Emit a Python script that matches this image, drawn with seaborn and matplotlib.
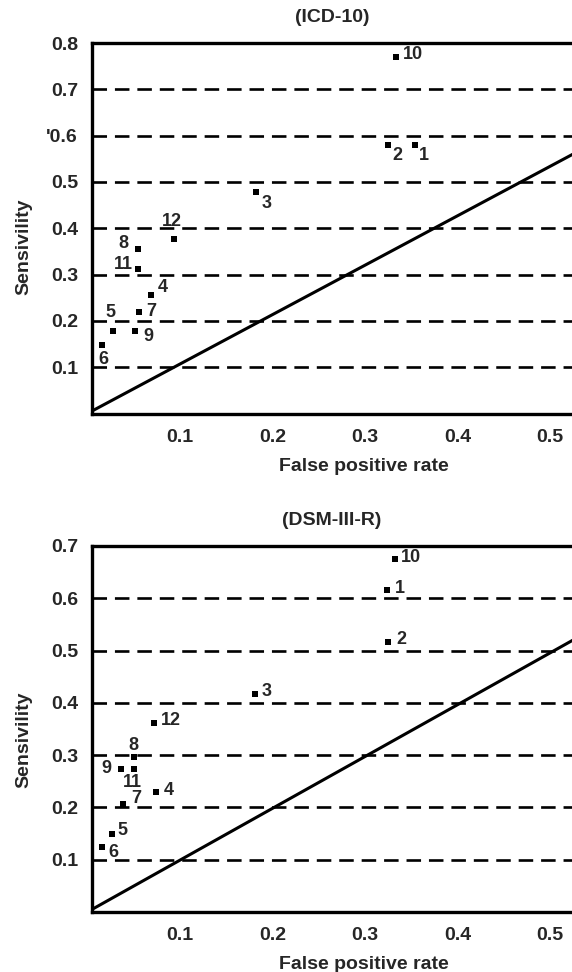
import matplotlib
matplotlib.use("Agg")
import matplotlib.pyplot as plt
import seaborn as sns
import pandas as pd

# ---- data ----
point_ids = ["1", "2", "3", "4", "5", "6", "7", "8", "9", "10", "11", "12"]

icd_fpr = [0.354, 0.325, 0.182, 0.069, 0.028, 0.016, 0.056, 0.055, 0.051, 0.334, 0.055, 0.094]
icd_sens = [0.580, 0.580, 0.479, 0.255, 0.179, 0.147, 0.219, 0.355, 0.179, 0.770, 0.312, 0.377]

dsm_fpr = [0.324, 0.325, 0.181, 0.074, 0.027, 0.016, 0.038, 0.050, 0.036, 0.333, 0.050, 0.072]
dsm_sens = [0.615, 0.517, 0.417, 0.230, 0.150, 0.124, 0.207, 0.297, 0.273, 0.676, 0.274, 0.361]

ref_x = [0.0, 0.525]
icd_ref_y = [0.0, 0.560]
dsm_ref_y = [0.0, 0.520]

x_ticks = [0.1, 0.2, 0.3, 0.4, 0.5]
x_ticklabels = ["0.1", "0.2", "0.3", "0.4", "0.5"]
icd_yticks = [0.1, 0.2, 0.3, 0.4, 0.5, 0.6, 0.7, 0.8]
icd_yticklabels = ["0.1", "0.2", "0.3", "0.4", "0.5", "'0.6", "0.7", "0.8"]
dsm_yticks = [0.1, 0.2, 0.3, 0.4, 0.5, 0.6, 0.7]
dsm_yticklabels = ["0.1", "0.2", "0.3", "0.4", "0.5", "0.6", "0.7"]
grid_levels_icd = [0.1, 0.2, 0.3, 0.4, 0.5, 0.6, 0.7]
grid_levels_dsm = [0.1, 0.2, 0.3, 0.4, 0.5, 0.6]

# label offsets (pixels) – styling only
icd_offsets = {"1": (9, -11), "2": (9, -11), "3": (11, -12), "4": (12, 8),
               "5": (-3, 18), "6": (1, -14), "7": (12, 1), "8": (-15, 6),
               "9": (14, -6), "10": (17, 2), "11": (-15, 5), "12": (-2, 17)}
dsm_offsets = {"1": (13, 2), "2": (13, 2), "3": (12, 2), "4": (13, 1),
               "5": (10, 3), "6": (11, -5), "7": (14, 5), "8": (0, 11),
               "9": (-14, 1), "10": (16, 1), "11": (-1, -14), "12": (17, 3)}

sns.set_style("ticks")
plt.rcParams["font.family"] = ["Liberation Sans", "DejaVu Sans"]
plt.rcParams["font.weight"] = "bold"

fig = plt.figure(figsize=(5.72, 9.72), dpi=100)
ax1 = fig.add_axes([92 / 572, 1 - 413.5 / 972, 480 / 572, 370.5 / 972])
ax2 = fig.add_axes([92 / 572, 1 - 912 / 972, 480 / 572, 366 / 972])


def draw(ax, fpr, sens, ref_y, yticks, yticklabels, grid_levels, ymax,
         title, offsets, ylabel_y):
    df = pd.DataFrame({"fpr": fpr, "sens": sens, "id": point_ids})
    for g in grid_levels:
        ax.axhline(g, color="black", lw=1.9, ls=(0, (5.5, 3.0)), zorder=1)
    sns.lineplot(x=ref_x, y=ref_y, ax=ax, color="black", lw=2.2, zorder=2)
    sns.scatterplot(data=df, x="fpr", y="sens", ax=ax, marker="s", s=17,
                    color="black", edgecolor="black", linewidth=0, zorder=3)
    for _, r in df.iterrows():
        dx, dy = offsets[r["id"]]
        ax.annotate(r["id"], (r["fpr"], r["sens"]), xytext=(dx, dy),
                    textcoords="offset pixels", ha="center", va="center",
                    fontsize=13, fontweight="bold", zorder=4)
    ax.set_xlim(0.005, 0.524)
    ax.set_ylim(0, ymax)
    ax.set_xticks(x_ticks)
    ax.set_xticklabels(x_ticklabels)
    ax.set_yticks(yticks)
    ax.set_yticklabels(yticklabels)
    ax.tick_params(length=0, labelsize=14, pad=10)
    ax.tick_params(axis="x", pad=11)
    for s in ["left", "bottom", "top"]:
        ax.spines[s].set_linewidth(2.4)
        ax.spines[s].set_color("black")
    ax.spines["right"].set_visible(False)
    ax.set_title(title, fontsize=14, fontweight="bold", pad=15)
    ax.set_xlabel("False positive rate", fontsize=14, fontweight="bold")
    ax.xaxis.set_label_coords(0.567, -0.12)
    ax.set_ylabel("Sensivility", fontsize=14, fontweight="bold")
    ax.yaxis.set_label_coords(-0.125, ylabel_y)


draw(ax1, icd_fpr, icd_sens, icd_ref_y, icd_yticks, icd_yticklabels,
     grid_levels_icd, 0.8, "(ICD-10)", icd_offsets, 0.45)
draw(ax2, dsm_fpr, dsm_sens, dsm_ref_y, dsm_yticks, dsm_yticklabels,
     grid_levels_dsm, 0.7, "(DSM-III-R)", dsm_offsets, 0.47)

fig.savefig("out.png", dpi=100)
